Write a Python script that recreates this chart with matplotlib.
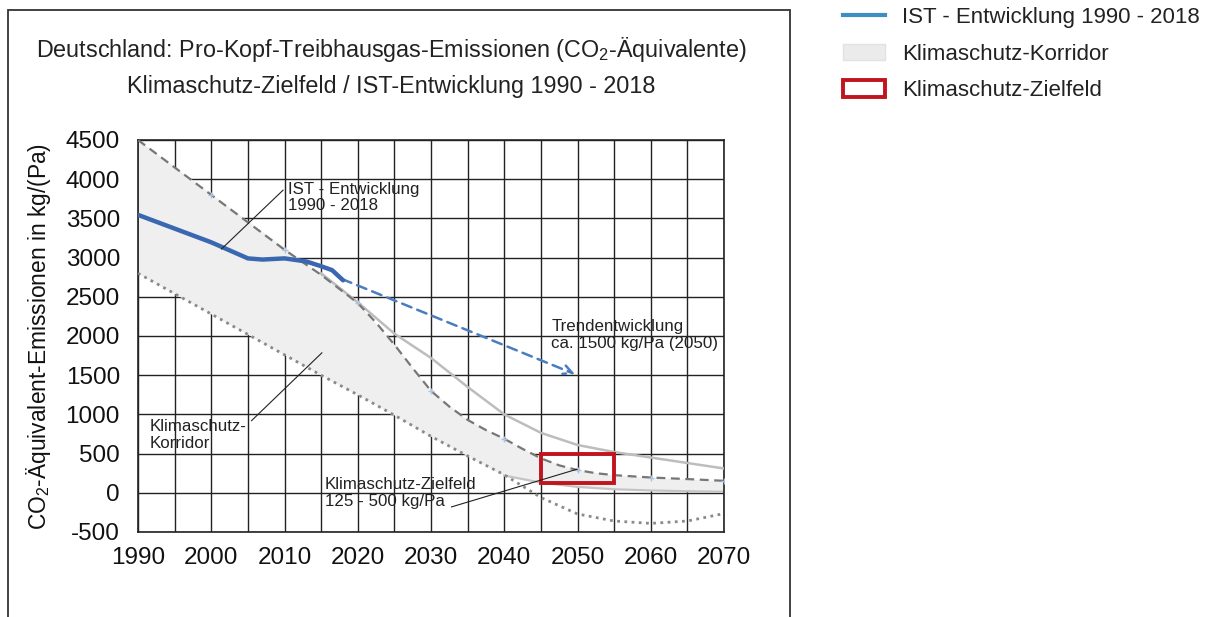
import matplotlib.pyplot as plt
import matplotlib.patches as mpatches
from matplotlib.lines import Line2D
import numpy as np

plt.rcParams['font.family'] = ['Liberation Sans', 'DejaVu Sans']
plt.rcParams['mathtext.fontset'] = 'custom'
plt.rcParams['mathtext.rm'] = 'Liberation Sans'
plt.rcParams['mathtext.it'] = 'Liberation Sans:italic'
plt.rcParams['axes.unicode_minus'] = False

# IST development 1990 - 2018
ist_years = [1990, 1995, 2000, 2005, 2007, 2010, 2013, 2015, 2016.5, 2018]
ist_values = [3545, 3370, 3195, 2990, 2975, 2990, 2950, 2890, 2840, 2710]

# trend arrow
trend_years = [2017.5, 2050]
trend_values = [2740, 1500]

# upper corridor bound (dashed)
upper_years = [1990, 2000, 2010, 2015, 2020, 2022.5, 2025, 2027.5, 2030, 2032.5, 2035, 2037.5,
               2040, 2042.5, 2045, 2047.5, 2050, 2052.5, 2055, 2060, 2065, 2070]
upper_values = [4500, 3800, 3100, 2780, 2420, 2170, 1890, 1590, 1300, 1100, 930, 800,
                690, 560, 440, 350, 290, 250, 225, 195, 175, 153]

# solid light grey curve
solid_years = [2015, 2020, 2025, 2030, 2035, 2040, 2045, 2050, 2055, 2060, 2065, 2070]
solid_values = [2800, 2430, 2030, 1720, 1350, 1000, 765, 610, 520, 450, 380, 310]

# lower dotted line
dotted_years = [1990, 2015, 2020, 2025, 2030, 2035, 2040, 2045, 2050, 2055, 2060, 2065, 2070]
dotted_values = [2800, 1500, 1250, 990, 720, 470, 230, -60, -270, -360, -390, -360, -265]

# lower corridor bound
lower_years = [1990, 2015, 2020, 2025, 2030, 2035, 2040, 2045, 2050, 2055, 2060, 2065, 2070]
lower_values = [2800, 1500, 1250, 990, 720, 470, 220, 130, 75, 45, 30, 20, 13]

# target field 2045-2055, 125-500 kg/Pa
target_years = [2045, 2055]
target_values = [125, 500]

marker_years = [2000, 2010, 2020, 2030, 2040, 2050, 2060, 2070]

x_ticks = [1990, 2000, 2010, 2020, 2030, 2040, 2050, 2060, 2070]
y_ticks = list(range(-500, 5000, 500))


def plot_corridor(ax):
    upper_on_lower = np.interp(lower_years, upper_years, upper_values)
    ax.fill_between(lower_years, lower_values, upper_on_lower, color='#efefef', lw=0, zorder=1)
    ax.plot(lower_years[6:], lower_values[6:], color='#c4c4c4', lw=1.6, zorder=2)


def plot_lines(ax):
    ax.plot(solid_years, solid_values, color='#bdbdbd', lw=1.8, zorder=3)
    ax.plot(upper_years, upper_values, color='#777777', lw=1.6, ls=(0, (4, 2.5)), zorder=4)
    mk = np.interp(marker_years, upper_years, upper_values)
    ax.plot(marker_years, mk, ls='none', marker='+', ms=4, color='#a9c3e0', mew=1, zorder=5)
    ax.plot(dotted_years, dotted_values, color='#8a8a8a', lw=2, ls=(0, (1, 1.6)), zorder=4)


def plot_ist(ax):
    ax.plot(ist_years, ist_values, color='#3a68b0', lw=3.2, solid_capstyle='round', zorder=7)
    ax.annotate('', xy=(trend_years[1], trend_values[1]), xytext=(trend_years[0], trend_values[0]),
                arrowprops=dict(arrowstyle='->', color='#4a7dc0', lw=1.8, ls=(0, (4, 2.5)),
                                mutation_scale=16), zorder=6)


def plot_target(ax):
    rect = mpatches.Rectangle((target_years[0], target_values[0]), target_years[1] - target_years[0],
                              target_values[1] - target_values[0], fill=False,
                              edgecolor='#c0141e', lw=2.8, zorder=8)
    ax.add_patch(rect)


def plot_labels(ax):
    fs = 12.2
    ax.text(2010.5, 3960, 'IST - Entwicklung\n1990 - 2018', fontsize=fs, va='top', ha='left',
            color='#222222', linespacing=1.05, zorder=9)
    ax.plot([2001.4, 2009.8], [3110, 3860], color='#222222', lw=0.8, zorder=9)
    ax.text(1991.6, 935, 'Klimaschutz-\nKorridor', fontsize=fs, va='top', ha='left',
            color='#222222', linespacing=1.15, zorder=9)
    ax.plot([2005.5, 2015.1], [920, 1785], color='#222222', lw=0.8, zorder=9)
    ax.text(2015.5, 200, 'Klimaschutz-Zielfeld\n125 - 500 kg/Pa', fontsize=fs, va='top', ha='left',
            color='#222222', linespacing=1.15, zorder=9)
    ax.plot([2032.8, 2049.9], [-180, 300], color='#222222', lw=0.8, zorder=9)
    ax.text(2046.4, 2220, 'Trendentwicklung\nca. 1500 kg/Pa (2050)', fontsize=fs, va='top', ha='left',
            color='#222222', linespacing=1.2, zorder=9)


def plot_legend(fig):
    handles = [Line2D([], [], color='#3f8ec2', lw=3),
               mpatches.Patch(facecolor='#ebebeb', edgecolor='#e2e2e2'),
               mpatches.Patch(facecolor='white', edgecolor='#c0141e', lw=2.8)]
    labels = ['IST - Entwicklung 1990 - 2018', 'Klimaschutz-Korridor', 'Klimaschutz-Zielfeld']
    fig.legend(handles, labels, loc='upper left', bbox_to_anchor=(843 / 1217, 1 - 7 / 617),
               frameon=False, fontsize=16, handlelength=1.9, handleheight=0.75,
               labelspacing=0.7, handletextpad=0.75, borderpad=0, borderaxespad=0,
               labelcolor='#222222')


fig = plt.figure(figsize=(12.17, 6.17), dpi=100)
ax = fig.add_axes([138 / 1217, 1 - 532 / 617, (724 - 138) / 1217, (532 - 140) / 617])

plot_corridor(ax)
plot_lines(ax)
plot_ist(ax)
plot_target(ax)
plot_labels(ax)

ax.set_xlim(1990, 2070)
ax.set_ylim(-500, 4500)
ax.set_xticks(x_ticks)
ax.set_yticks(y_ticks)
ax.set_xticks(range(1995, 2070, 10), minor=True)
ax.grid(True, which='both', color='#222222', lw=1.0, zorder=0)
ax.set_axisbelow(True)
ax.tick_params(which='both', length=0, labelsize=17.5, colors='#111111')
ax.tick_params(axis='y', pad=13)
ax.tick_params(axis='x', pad=11)
for s in ax.spines.values():
    s.set_color('#222222')
    s.set_linewidth(1.2)
ax.set_ylabel('CO$_2$-Äquivalent-Emissionen in kg/(Pa)', fontsize=16.4, color='#111111')
ax.yaxis.set_label_coords(-(138 - 53) / 586, 0.5)

title_fs = 16.8
fig.text(391 / 1217, 1 - 50 / 617, 'Deutschland: Pro-Kopf-Treibhausgas-Emissionen (CO$_2$-Äquivalente)',
         ha='center', va='center', fontsize=title_fs, color='#222222')
fig.text(391 / 1217, 1 - 86 / 617, 'Klimaschutz-Zielfeld / IST-Entwicklung 1990 - 2018',
         ha='center', va='center', fontsize=title_fs, color='#222222')

frame = mpatches.Rectangle((8 / 1217, -0.05), (790 - 8) / 1217, 1.05 - 10 / 617,
                           transform=fig.transFigure, fill=False, edgecolor='#333333', lw=1.3)
fig.add_artist(frame)

plot_legend(fig)

fig.savefig('out.png', dpi=100)
